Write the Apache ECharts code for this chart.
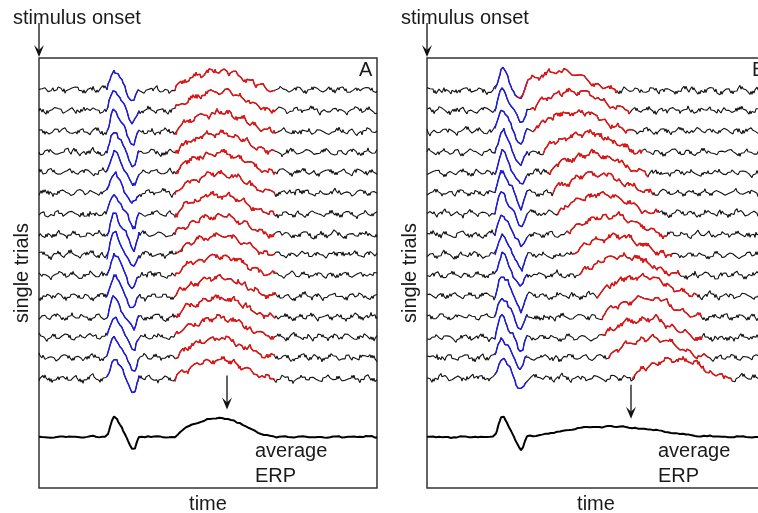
<!DOCTYPE html>
<html><head><meta charset="utf-8">
<script src="https://cdn.jsdelivr.net/npm/echarts@6/dist/echarts.min.js"></script>
<style>html,body{margin:0;padding:0;background:#fff}#c{width:758px;height:513px}</style>
</head><body><div id="c"></div>
<script>
// ---------- data ----------
const panelLabels = ['A', 'B'];
const nSamples = 339;                 // time samples across each panel
const nTrials = 15;
// early component (blue), same latency in every trial
const blueStart = 68;
const blueWave = [0,3,6,10,14,17,19.5,21, 21,20,18,16,14,12,10,8, 6,4,2,0,-2,-4,-6,-8,
  -10,-12,-13,-12.5,-11,-8,-5,-2.5, 0];
// late component (red)
const redWave = [
  0,1,2,3,3.8,4.6,5.4,6.2,7,7.6,
  8.2,8.8,9.4,10,10.5,11,11.5,12,12.4,12.8,
  13.2,13.6,14,14.4,14.8,15.1,15.4,15.7,16,16.3,
  16.6,16.9,17.1,17.3,17.5,17.7,17.9,18,18.1,18.2,
  18.3,18.4,18.5,18.5,18.6,18.6,18.7,18.7,18.8,18.8,
  18.8,18.7,18.6,18.4,18.2,18,17.6,17.2,16.8,16.3,
  15.9,15.5,15,14.5,14,13.5,13,12.5,12,11.5,
  11,10.5,10,9.5,9,8.5,8,7.5,7,6.5,
  6,5.5,5,4.6,4.2,3.8,3.4,3,2.6,2.2,
  1.9,1.6,1.3,1,0.8,0.6,0.4,0.3,0.2,0.1,
  0];
const redStartA = [136, 136, 136, 136, 136, 136, 136, 136, 136, 136, 136, 136, 136, 136, 136];
const redStartB = [90, 103, 106, 116, 121, 126, 131, 140, 145, 153, 170, 175, 175, 181, 205];
// background EEG noise (estimated): slower wiggles and fine jitter
const noiseBank = [
  0,1.5,-0.5,2,1,3,1.5,0.5,2.5,-1,0,1,-1.5,0.5,2,0,-2,-0.5,1,2.5,
  3.5,1,2,0,-1,0.5,-2,-1,-3,-1.5,0,1.5,0.5,2.5,1,3,2,4,1.5,2,
  0,-0.5,1,-1,-2.5,-1,-3,-2,-0.5,0.5,-1,1,2,0.5,3,1,0,-1.5,-0.5,-2,
  -1,0.5,2,1,3.5,2.5,4,2,1,2.5,0,-1,0.5,-1.5,-3,-2,-4,-2.5,-1,0,
  1.5,0,2,3,1,2.5,0.5,-1,0,-2,-1,1,0,2,3.5,2,4.5,3,1.5,2,
  0,1,-1,-2.5,-1.5,-3.5,-2,-1,0.5,-0.5,1.5,0,2,1,-0.5,1,3,2,3.5,1,
  0,-1,-2,-0.5,-2.5,-1,0,1.5,0.5,-1,-3,-2,-3.5,-1.5,-0.5,1,0,2,1.5,3,
  2,4,2.5,1,2,0,1,-1,-2,-0.5,-1.5,0,1,-0.5,1.5,2.5,1,3,2,0.5,
  -1,0,-2,-3,-1.5,-2.5,-1,0.5,2,1,3,4,2,3,1,0,1.5,-0.5,-1,0,
  -2,-1,0,1.5,0,2,1,-0.5,0.5,-1.5,-3,-1.5,-2,0,1,2.5,1.5,3.5,2,1,
  2,0.5,-1,0,-1.5,-2.5,-1,-2,0,1,0,2,3,1.5,2.5,0.5,-1,-2,-0.5,-1.5,
  0,1.5,3,2,4,3,1.5,2,0,-1,-0.5,-2,-3,-1.5,-2,0,-1,1,0.5,2,
  1,3,2.5,4,2,0.5,1,-1,0,-2,-1,-3,-1.5,0,1,-0.5,1.5,0,2,3,
  1.5,2.5,0,1,-1,-2.5,-1.5,-3,-2,-0.5,0.5,-1,1,2,1,3,4.5,3,2,0.5,
  1,-1,0,-1.5,-3,-2,-1,0.5,-0.5,1,2.5,1,2,0,-1.5,-0.5,-2,-1,0,1.5,
  0.5,2,3,1.5,3.5,2,0,1,-1,-2,-1,-3.5,-2,-1,0.5,0,1.5,2,0.5,1,
  -1,0,-2,-1,1,2,1,3,2.5,4,2,1,0,1.5,-0.5,-2,-1,-2.5,-0.5,0,
  1,0,2,3.5,2,1,-0.5,0.5,-1,-2,-1,-3,-2,-0.5,1,0,2,1,3,2
];
const fineBank = [
  0.8,-0.6,1.2,-1,0.3,-1.4,0.9,-0.2,1.5,-0.8,0.4,-1.1,1,-0.5,0.2,-1.3,0.7,1.1,-0.9,0.5,
  -1.2,0.6,-0.3,1.3,-0.7,0.9,-1.5,0.2,1,-0.4,0.6,-1,1.4,-0.6,0.1,-0.9,1.2,-1.3,0.5,0.8,
  -0.5,1,-1.1,0.3,-0.8,1.5,-0.2,0.7,-1.4,0.4,1.1,-0.7,0.2,-1,0.9,-0.3,1.3,-1.2,0.6,-0.1,
  0.9,-1.5,0.5,-0.4,1.2,-0.8,0.3,1,-1.1,0.7,-0.6,1.4,-0.9,0.1,-1.2,0.8,-0.2,1.1,-0.5,0.4,
  -1.3,0.6,1.2,-0.7,0.2,-1,1.5,-0.4,0.8,-1.1,0.3,0.9,-0.6,1,-1.4,0.5,-0.3,1.1,-0.8,0.6,
  0
];
const noiseStartA = [0, 53, 106, 159, 212, 265, 318, 11, 64, 117, 170, 223, 276, 329, 22];
const noiseDirA   = [1, -1, 1, -1, 1, -1, 1, -1, 1, -1, 1, -1, 1, -1, 1];
const noiseSignA  = [1, 1, -1, -1, 1, 1, -1, -1, 1, 1, -1, -1, 1, 1, -1];
const fineStartA  = [0, 37, 74, 10, 47, 84, 20, 57, 94, 30, 67, 3, 40, 77, 13];
const noiseStartB = [29, 82, 135, 188, 241, 294, 347, 40, 93, 146, 199, 252, 305, 358, 51];
const noiseDirB   = [-1, 1, -1, 1, -1, 1, -1, 1, -1, 1, -1, 1, -1, 1, -1];
const noiseSignB  = [-1, 1, 1, -1, -1, 1, 1, -1, -1, 1, 1, -1, -1, 1, 1];
const fineStartB  = [50, 87, 23, 60, 97, 33, 70, 6, 43, 80, 16, 53, 90, 26, 63];
const erpArrowIdx = [188, 204];       // time sample the "average ERP" arrow points at

// ---------- layout / style ----------
const FONT = '"Liberation Sans", Arial, Helvetica, sans-serif';
const TXT = '#1a1a1a';
const gridsPx = [{left: 39, top: 58, width: 338, height: 430}, {left: 427, top: 58, width: 338, height: 430}];
const yMax = 430, firstBase = 398, stepBase = 20.6, avgBase = 51;
const redStarts = [redStartA, redStartB];
const nStart = [noiseStartA, noiseStartB], nDir = [noiseDirA, noiseDirB], nSign = [noiseSignA, noiseSignB];
const fStart = [fineStartA, fineStartB];
const fineScale = 0.8;

function noiseAt(p, k, j) {
  const n = noiseBank.length, m = fineBank.length;
  const i1 = (((nStart[p][k] + nDir[p][k] * j) % n) + n) % n;
  const i2 = (fStart[p][k] + j) % m;
  return nSign[p][k] * noiseBank[i1] + fineScale * fineBank[i2];
}

const series = [];
const avgData = [[], []];
for (let p = 0; p < 2; p++) {
  const sums = new Array(nSamples).fill(0);
  for (let k = 0; k < nTrials; k++) {
    const base = firstBase - stepBase * k;
    const rs = redStarts[p][k];
    const sig = [];
    for (let j = 0; j < nSamples; j++) {
      let v = noiseAt(p, k, j);
      if (j >= blueStart && j < blueStart + blueWave.length) v += blueWave[j - blueStart];
      if (j >= rs && j < rs + redWave.length) v += redWave[j - rs];
      sig.push(v);
      sums[j] += v;
    }
    const common = {type: 'line', xAxisIndex: p, yAxisIndex: p, symbol: 'none', silent: true, animation: false};
    series.push(Object.assign({}, common, {
      data: sig.map((v, j) => [j, base + v]),
      lineStyle: {color: '#111', width: 1.1}
    }));
    const bl = [];
    for (let j = blueStart; j < blueStart + blueWave.length; j++) bl.push([j, base + sig[j]]);
    series.push(Object.assign({}, common, {data: bl, lineStyle: {color: '#1a1af0', width: 1.4}}));
    const rd = [];
    for (let j = rs; j < Math.min(nSamples, rs + redWave.length); j++) rd.push([j, base + sig[j]]);
    series.push(Object.assign({}, common, {data: rd, lineStyle: {color: '#ee1111', width: 1.4}}));
  }
  avgData[p] = sums.map((s, j) => [j, avgBase + s / nTrials]);
  series.push({type: 'line', xAxisIndex: p, yAxisIndex: p, symbol: 'none', silent: true, animation: false,
    data: avgData[p], lineStyle: {color: '#000', width: 2}});
}

const chart = echarts.init(document.getElementById('c'), null, {renderer: 'canvas'});
const nameStyle = {fontSize: 20, fontFamily: FONT, color: TXT};
chart.setOption({
  animation: false,
  grid: gridsPx.map(g => Object.assign({show: true, outerBoundsMode: 'none', containLabel: false,
    borderColor: '#333', borderWidth: 1.5, backgroundColor: 'transparent'}, g)),
  xAxis: [0, 1].map(p => ({
    gridIndex: p, type: 'value', min: 0, max: nSamples - 1,
    axisLine: {show: false}, axisTick: {show: false}, axisLabel: {show: false}, splitLine: {show: false},
    name: 'time', nameLocation: 'middle', nameGap: 6, nameTextStyle: nameStyle
  })),
  yAxis: [0, 1].map(p => ({
    gridIndex: p, type: 'value', min: 0, max: yMax,
    axisLine: {show: false}, axisTick: {show: false}, axisLabel: {show: false}, splitLine: {show: false},
    name: 'single trials', nameLocation: 'middle', nameGap: 7, nameRotate: 90, nameTextStyle: nameStyle
  })),
  series: series
});

// ---------- annotations ----------
const graphics = [];
function arrow(x, y0, y1) {
  graphics.push({type: 'line', shape: {x1: x, y1: y0, x2: x, y2: y1 - 6}, style: {stroke: '#111', lineWidth: 1.3}, silent: true});
  graphics.push({type: 'polygon', shape: {points: [[x - 5, y1 - 12], [x, y1 - 7], [x + 5, y1 - 12], [x, y1]]}, style: {fill: '#111'}, silent: true});
}
const labelLeft = [359, 752];
const avgTextLeft = [255, 658];
for (let p = 0; p < 2; p++) {
  const tl = chart.convertToPixel({gridIndex: p}, [0, yMax]);
  graphics.push({type: 'text', x: tl[0] - 26, y: 18, style: {text: 'stimulus onset', font: '20px ' + FONT, fill: TXT, verticalAlign: 'middle'}, silent: true});
  arrow(tl[0], 23, tl[1] - 1);
  graphics.push({type: 'text', x: labelLeft[p], y: 70, style: {text: panelLabels[p], font: '20px ' + FONT, fill: TXT, verticalAlign: 'middle'}, silent: true});
  graphics.push({type: 'text', x: avgTextLeft[p], y: 451, style: {text: 'average', font: '20px ' + FONT, fill: TXT, verticalAlign: 'middle'}, silent: true});
  graphics.push({type: 'text', x: avgTextLeft[p], y: 476, style: {text: 'ERP', font: '20px ' + FONT, fill: TXT, verticalAlign: 'middle'}, silent: true});
  const ai = erpArrowIdx[p];
  let peak = -Infinity;
  for (let j = ai - 4; j <= ai + 4; j++) peak = Math.max(peak, avgData[p][j][1]);
  const pt = chart.convertToPixel({gridIndex: p}, [ai, peak]);
  arrow(pt[0], pt[1] - 42, pt[1] - 8);
}
chart.setOption({graphic: graphics});
</script>
</body></html>
